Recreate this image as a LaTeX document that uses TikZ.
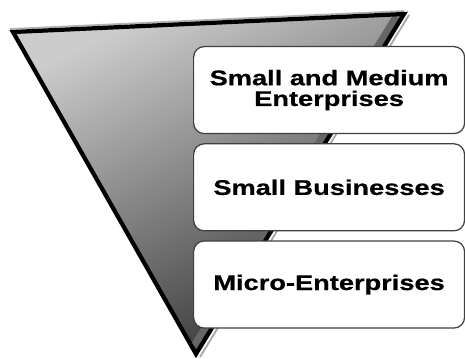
\documentclass[tikz,border=0pt]{standalone}
\usepackage{fontspec}
\newfontfamily\tierfont{Liberation Sans Bold}[FakeStretch=1.28,FakeBold=0.6]
\usetikzlibrary{positioning,calc}

\begin{document}
\begin{tikzpicture}[
			x=0.02cm,y=-0.02cm,
			node distance=0.18cm,
			tier/.style={
				draw=black!75,
				line width=0.7pt,
				fill=white,
				rectangle,
				rounded corners=6pt,
				minimum width=5.42cm,
				minimum height=1.74cm,
				inner sep=2pt,
				align=center,
				font=\tierfont\fontsize{12.1}{11.8}\selectfont
			}
			]
			\useasboundingbox (0,0) rectangle (465,358);
			
			% Funnel corners
			\coordinate (TL) at (13,32);
			\coordinate (TR) at (404,14);
			\coordinate (Tip) at (196,354);
			
			% Funnel with bevelled edges
			\shade[shading=axis,top color=black!20,bottom color=black!80,shading angle=25] (TL) -- (TR) -- (Tip) -- cycle;
			\draw[black!60,line width=4pt] ($(TR)!0.012!(TL)+(-3,2)$) -- ($(Tip)+(-2,-8)$);
			\draw[black!30,line width=1pt] ($(TL)+(-3,-3)$) -- ($(TR)+(0,-3)$);
			\draw[black!35,line width=1pt] ($(TR)+(5,1)$) -- ($(Tip)+(4,3)$);
			\draw[line width=2.4pt,line join=miter] (TL) -- (TR) -- (Tip) -- cycle;
			
			% Tiers
			\node[tier,anchor=north west] (SME) at (193,46) {Small and Medium\\Enterprises};
			\node[tier,below=of SME] (SB) {Small Businesses};
			\node[tier,below=of SB] (ME) {Micro-Enterprises};
		\end{tikzpicture}
\end{document}
